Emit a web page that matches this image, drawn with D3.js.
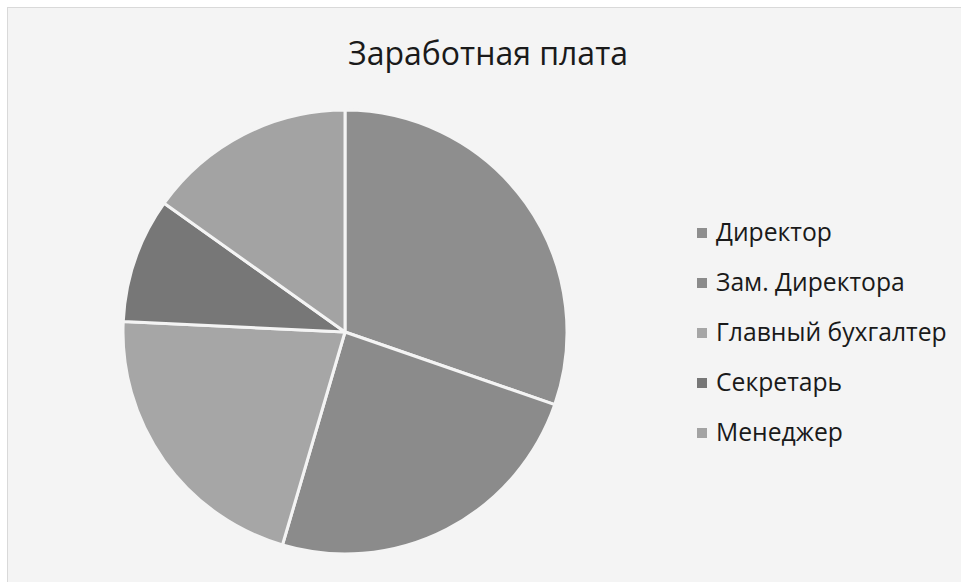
<!DOCTYPE html>
<html><head><meta charset="utf-8">
<script src="https://cdn.jsdelivr.net/npm/d3@7"></script>
<style>body{margin:0;background:#fff;font-family:"Open Sans","Noto Sans",sans-serif}</style>
</head><body>
<script>
const categories = ["Директор","Зам. Директора","Главный бухгалтер","Секретарь","Менеджер"];
const values = [100000, 80000, 70000, 30000, 50000];
const colors = ["#8e8e8e","#8b8b8b","#a6a6a6","#777777","#a3a3a3"];
const title = "Заработная плата";

const W = 961, H = 582;
const svg = d3.select("body").append("svg").attr("width", W).attr("height", H);
svg.append("rect").attr("x", 7.5).attr("y", 7.5).attr("width", W).attr("height", H)
  .attr("fill", "#f4f4f4").attr("stroke", "#d9d9d9").attr("stroke-width", 1);

svg.append("text").attr("x", 488).attr("y", 65).attr("text-anchor", "middle")
  .attr("font-size", 32).attr("fill", "#1a1a1a").text(title);

const data = categories.map((c, i) => ({c, v: values[i], col: colors[i]}));
const pie = d3.pie().value(d => d.v).sort(null);
const arc = d3.arc().innerRadius(0).outerRadius(222);
const g = svg.append("g").attr("transform", "translate(345,332)");
g.selectAll("path").data(pie(data)).join("path")
  .attr("d", arc).attr("fill", d => d.data.col)
  .attr("stroke", "#f4f4f4").attr("stroke-width", 3).attr("stroke-linejoin", "round");

const lg = svg.append("g");
const rowY = d3.scalePoint().domain(categories).range([233, 433]);
const items = lg.selectAll("g").data(data).join("g")
  .attr("transform", d => `translate(697,${rowY(d.c)})`);
items.append("rect").attr("x", 0).attr("y", -5).attr("width", 10).attr("height", 10).attr("fill", d => d.col);
items.append("text").attr("x", 19).attr("y", 8).attr("font-size", 24.7).attr("fill", "#1a1a1a").text(d => d.c);
</script>
</body></html>
